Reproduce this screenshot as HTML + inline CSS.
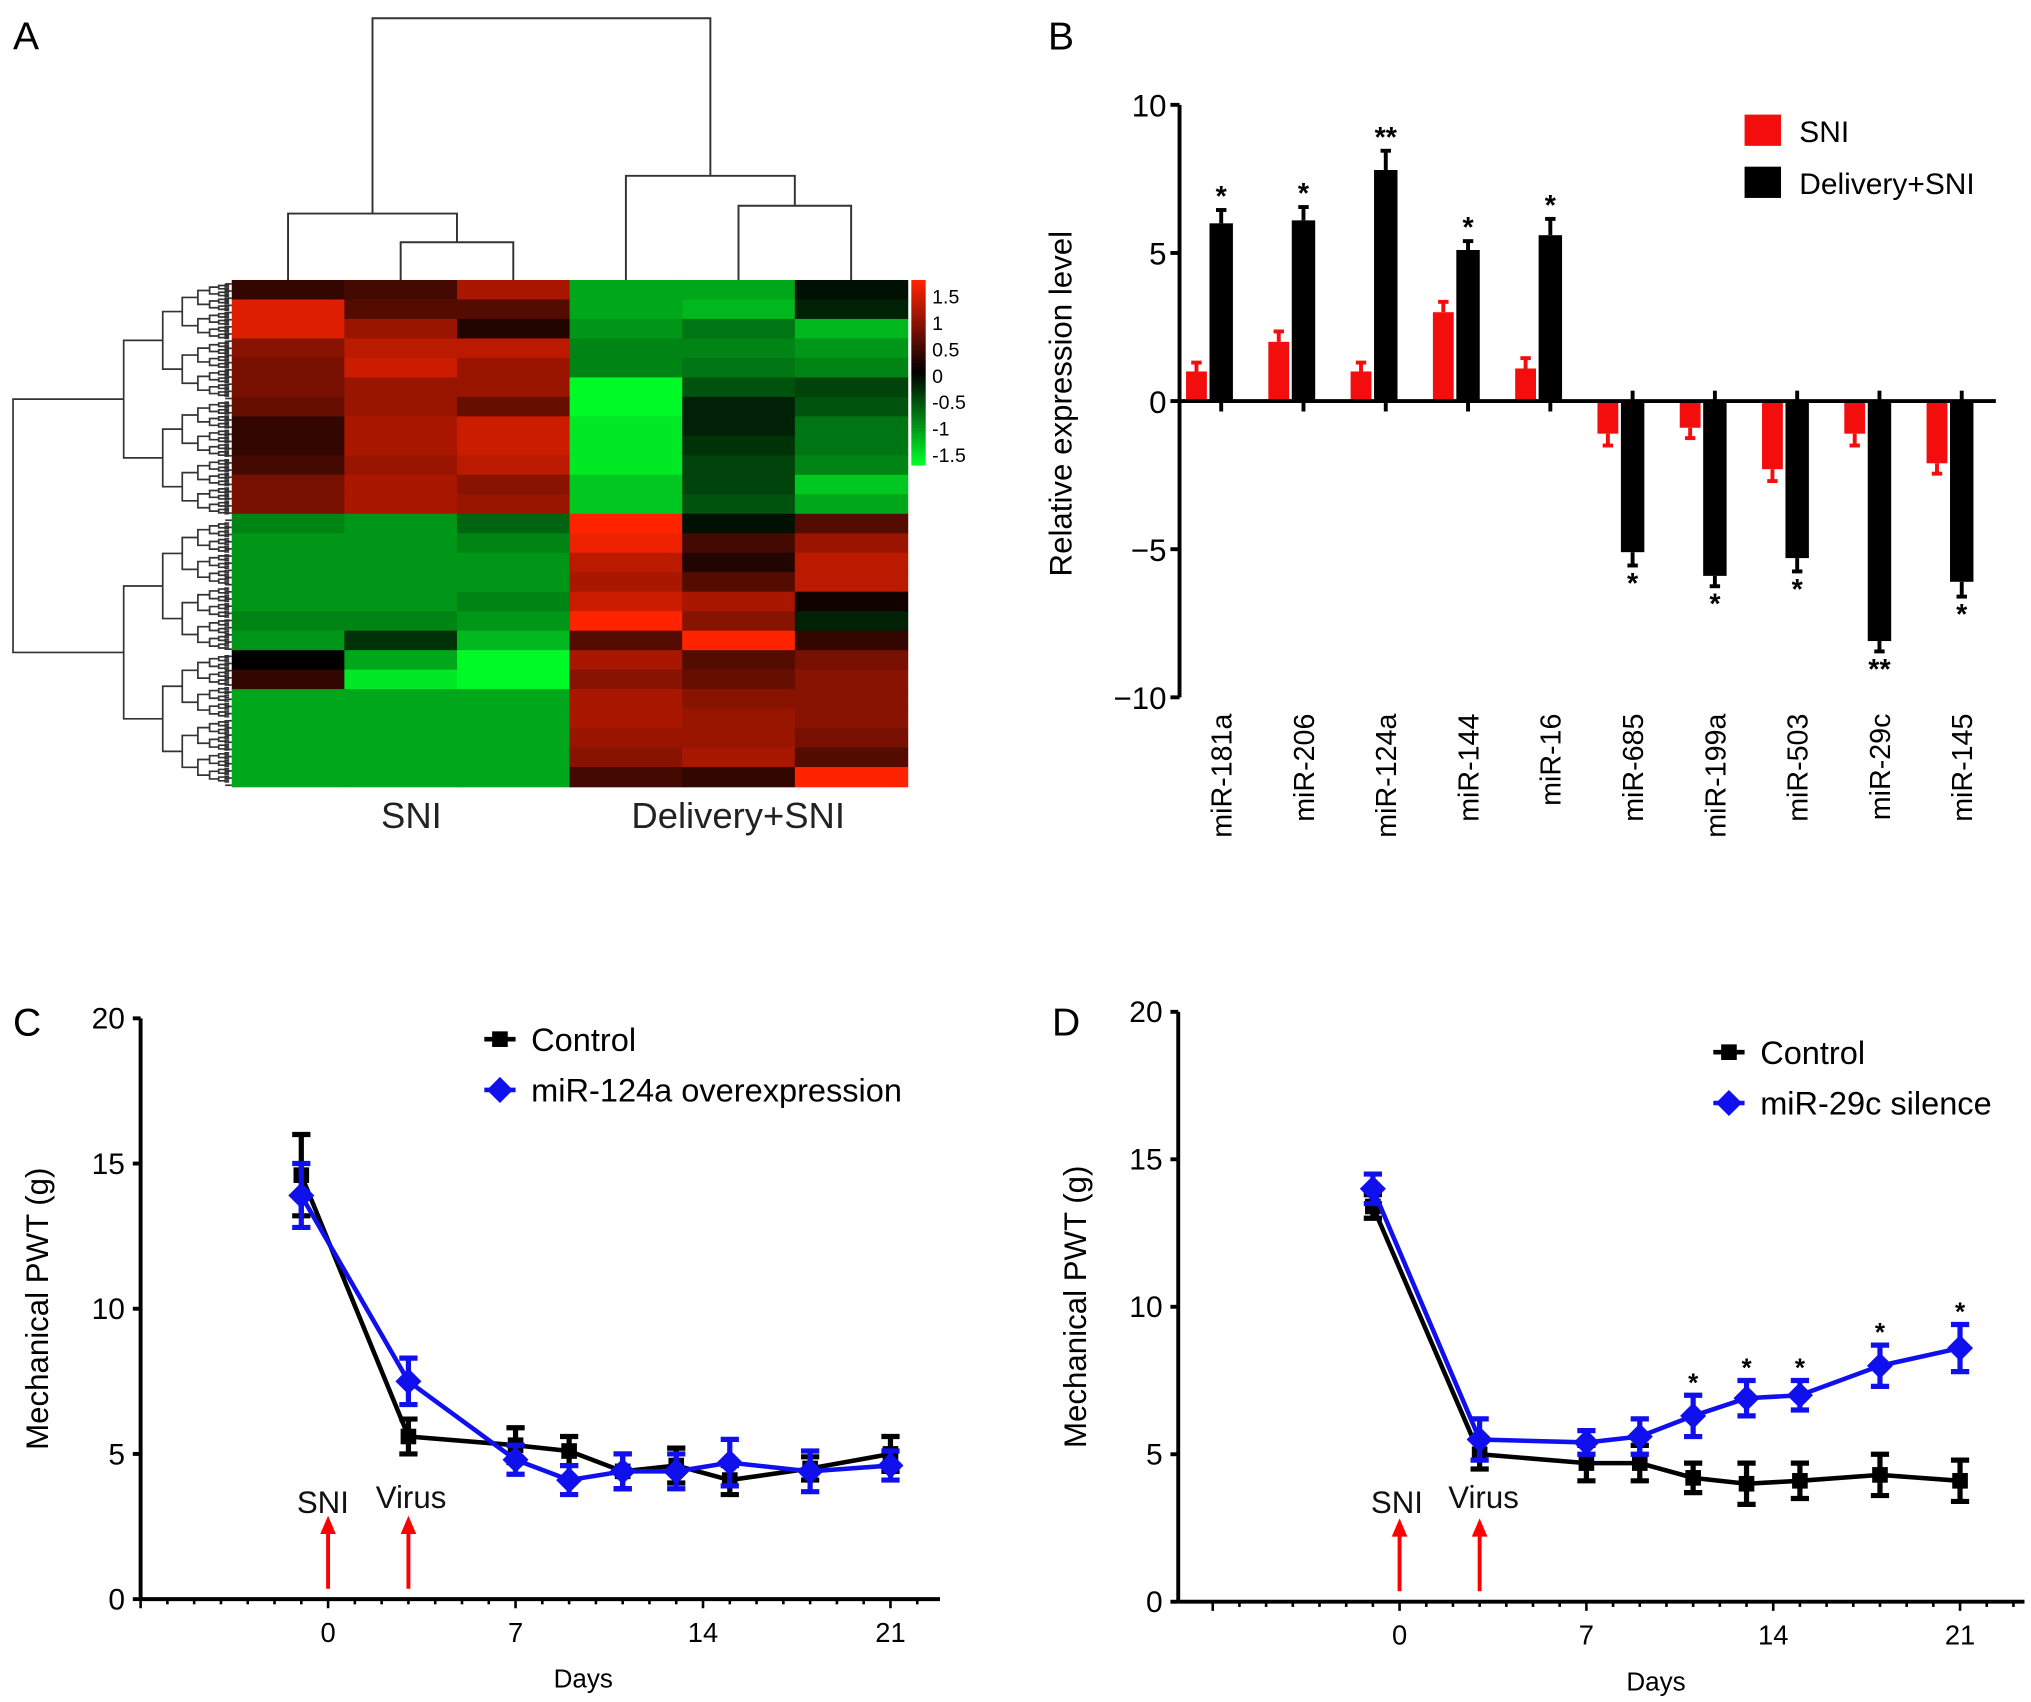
<!DOCTYPE html>
<html><head><meta charset="utf-8"><style>
html,body{margin:0;padding:0;background:#fff;}
svg{display:block;font-family:"Liberation Sans",Arial,sans-serif;}
</style></head><body>
<svg id="fig" width="2031" height="1702" viewBox="0 0 1560 1307" preserveAspectRatio="none" xmlns="http://www.w3.org/2000/svg">
<rect width="1560" height="1307" fill="#fff"/>
<g id="pA"></g>
<g id="pB"></g>
<g id="pC"></g>
<g id="pD"></g>
</svg>
<script>
// ---------- Panel A data ----------
const heatColumns = ["SNI-1","SNI-2","SNI-3","Del-1","Del-2","Del-3"];
const heatRows = [
[0.3,0.4,1.0,-1.0,-1.0,-0.1],
[1.3,0.5,0.5,-1.0,-1.1,-0.2],
[1.3,0.9,0.2,-0.9,-0.7,-1.1],
[0.8,1.1,1.1,-0.8,-0.8,-0.9],
[0.7,1.2,0.9,-0.8,-0.7,-0.8],
[0.7,0.9,0.9,-1.5,-0.5,-0.4],
[0.6,0.9,0.6,-1.6,-0.2,-0.5],
[0.3,1.0,1.2,-1.4,-0.2,-0.7],
[0.3,1.0,1.2,-1.4,-0.3,-0.7],
[0.4,0.9,1.1,-1.4,-0.4,-0.8],
[0.7,1.0,0.8,-1.2,-0.4,-1.2],
[0.7,1.0,0.9,-1.2,-0.5,-1.0],
[-0.8,-0.9,-0.6,1.5,-0.1,0.5],
[-0.9,-0.9,-0.8,1.4,0.4,0.9],
[-0.9,-0.9,-0.9,1.1,0.2,1.1],
[-0.9,-0.9,-0.9,1.0,0.5,1.1],
[-0.9,-0.9,-0.8,1.2,1.0,0.1],
[-0.8,-0.8,-0.9,1.5,0.8,-0.2],
[-0.9,-0.3,-1.1,0.5,1.5,0.3],
[0.0,-1.0,-1.5,1.0,0.5,0.7],
[0.3,-1.4,-1.5,0.8,0.6,0.8],
[-1.0,-1.0,-1.0,1.0,0.8,0.8],
[-1.0,-1.0,-1.0,1.0,0.9,0.8],
[-1.0,-1.0,-1.0,0.9,0.9,0.7],
[-1.0,-1.0,-1.0,0.8,1.0,0.5],
[-1.0,-1.0,-1.0,0.4,0.3,1.5]];
const colorbarTicks = [1.5,1,0.5,0,-0.5,-1,-1.5];

// ---------- Panel B data ----------
const mirNames = ["miR-181a","miR-206","miR-124a","miR-144","miR-16","miR-685","miR-199a","miR-503","miR-29c","miR-145"];
const sniValues = [1.0,2.0,1.0,3.0,1.1,-1.1,-0.9,-2.3,-1.1,-2.1];
const sniErrors = [0.3,0.35,0.3,0.35,0.35,0.4,0.35,0.4,0.4,0.35];
const deliveryValues = [6.0,6.1,7.8,5.1,5.6,-5.1,-5.9,-5.3,-8.1,-6.1];
const deliveryErrors = [0.45,0.45,0.65,0.3,0.55,0.45,0.35,0.45,0.35,0.5];
const deliveryStars = ["*","*","**","*","*","*","*","*","**","*"];
const barTicks = [10,5,0,-5,-10];

// ---------- Panel C data ----------
const days = [-1,3,7,9,11,13,15,18,21];
const cControl = [14.6,5.6,5.3,5.1,4.4,4.6,4.1,4.5,5.0];
const cControlErr = [1.4,0.6,0.6,0.5,0.6,0.6,0.5,0.4,0.6];
const cTreat = [13.9,7.5,4.8,4.1,4.4,4.4,4.7,4.4,4.6];
const cTreatErr = [1.1,0.8,0.5,0.5,0.6,0.6,0.8,0.7,0.5];
// ---------- Panel D data ----------
const dControl = [13.4,5.0,4.7,4.7,4.2,4.0,4.1,4.3,4.1];
const dControlErr = [0.4,0.5,0.6,0.6,0.5,0.7,0.6,0.7,0.7];
const dTreat = [14.0,5.5,5.4,5.6,6.3,6.9,7.0,8.0,8.6];
const dTreatErr = [0.5,0.7,0.4,0.6,0.7,0.6,0.5,0.7,0.8];
const dStars = ["","","","","*","*","*","*","*"];
const lineYTicks = [0,5,10,15,20];
const lineXTicks = [0,7,14,21];

const NS="http://www.w3.org/2000/svg";
function el(parent,tag,attrs,text){const e=document.createElementNS(NS,tag);for(const k in attrs)e.setAttribute(k,attrs[k]);if(text!==undefined)e.textContent=text;parent.appendChild(e);return e;}

// ===== Panel A =====
(function(){
const g=document.getElementById('pA');
const lab=el(g,'text',{x:10,y:38,'font-size':30},'A');


const X0=178,X1=697,Y0=215,Y1=604;
const cw=(X1-X0)/heatColumns.length, rh=(Y1-Y0)/heatRows.length;
function col(v){const t=Math.max(-1,Math.min(1,v/1.5));
 if(t>=0)return `rgb(${Math.round(255*t)},${Math.round(35*t)},0)`;
 const s=-t;return `rgb(0,${Math.round(250*s)},${Math.round(40*s)})`;}
heatRows.forEach((row,ri)=>{row.forEach((v,ci)=>{
 const r=el(g,'rect',{x:X0+ci*cw,y:Y0+ri*rh,width:cw+0.6,height:rh+0.6,fill:col(v)});
 
 
});});
const cb=el(g,'g',{});


for(let i=0;i<60;i++){const v=1.5-3*i/59;el(cb,'rect',{x:700,y:215+i*142/60,width:11,height:142/60+0.5,fill:col(v)});}
colorbarTicks.forEach(v=>{const t=el(cb,'text',{x:716,y:289-v*40.5+5,'font-size':15},String(v));
 
 });
const cx=i=>X0+cw*(i+0.5);
const dend=el(g,'g',{stroke:'#333','stroke-width':1.5,fill:'none'});


function U(x1,x2,y,yb1,yb2){el(dend,'path',{d:`M${x1},${yb1}V${y}H${x2}V${yb2}`});}
U(cx(1),cx(2),186,215,215);
U(cx(0),(cx(1)+cx(2))/2,164,215,186);
U(cx(4),cx(5),158,215,215);
U(cx(3),(cx(4)+cx(5))/2,135,215,158);
U((cx(0)+(cx(1)+cx(2))/2)/2,(cx(3)+(cx(4)+cx(5))/2)/2,14,164,135);
const ld=el(g,'g',{stroke:'#333','stroke-width':1.3,fill:'none'});


const levels=[10,95,125,140,152,161,168,173,176];
function tree(lo,hi,d){
 if(hi-lo<=0.0001||d>=levels.length-1){return (lo+hi)/2;}
 const mid=(lo+hi)/2;const x=levels[d];
 const a=tree(lo,lo+(mid-lo)*0.98,d+1), b=tree(mid+(hi-mid)*0.02,hi,d+1);
 const xa=levels[Math.min(d+1,levels.length-1)];
 el(ld,'path',{d:`M${xa},${a}H${x}V${b}H${xa}`});
 return (a+b)/2;}
const top=tree(Y0+3,398-3,1), bot=tree(398+3,Y1-3,1);
el(ld,'path',{d:`M95,${top}H10V${bot}H95`});
for(let y=Y0+3;y<Y1;y+=5.5){el(ld,'line',{x1:173,y1:y,x2:178,y2:y});}
const l1=el(g,'text',{x:316,y:636,'font-size':28,'text-anchor':'middle',fill:'#222'},'SNI');


const l2=el(g,'text',{x:567,y:636,'font-size':28,'text-anchor':'middle',fill:'#222'},'Delivery+SNI');


})();

// ===== Panel B =====
(function(){
const g=document.getElementById('pB');
const lab=el(g,'text',{x:805,y:38,'font-size':30},'B');


const AX=906, yOf=v=>308-v*22.75;
const xg=i=>938+i*63.2;
el(g,'line',{x1:AX,y1:yOf(10),x2:AX,y2:yOf(-10),stroke:'#000','stroke-width':3});
barTicks.forEach(v=>{
 el(g,'line',{x1:AX-7,y1:yOf(v),x2:AX,y2:yOf(v),stroke:'#000','stroke-width':3});
 const t=el(g,'text',{x:AX-10,y:yOf(v)+9,'font-size':24,'text-anchor':'end'},v<0?'\u2212'+(-v):String(v));
 
 });
const yt=el(g,'text',{x:0,y:0,'font-size':24,'text-anchor':'middle',transform:`translate(823,310) rotate(-90)`},'Relative expression level');


function errbar(x,v,e,color,w){const y=yOf(v),ye=yOf(v+(v>=0?e:-e));
 el(g,'line',{x1:x,y1:y,x2:x,y2:ye,stroke:color,'stroke-width':3});
 el(g,'line',{x1:x-w,y1:ye,x2:x+w,y2:ye,stroke:color,'stroke-width':3});}
mirNames.forEach((n,i)=>{
 const x=xg(i);
 const rv=sniValues[i],bv=deliveryValues[i];
 const r=el(g,'rect',{x:x-27,y:Math.min(yOf(0),yOf(rv)),width:16,height:Math.abs(yOf(rv)-yOf(0)),fill:'#f40d0d'});
 
 
 errbar(x-19,rv,sniErrors[i],'#f40d0d',4);
 const b=el(g,'rect',{x:x-9,y:Math.min(yOf(0),yOf(bv)),width:18,height:Math.abs(yOf(bv)-yOf(0)),fill:'#000'});
 
 
 errbar(x,bv,deliveryErrors[i],'#000',4);
 el(g,'line',{x1:x,y1:yOf(0),x2:x,y2:yOf(0)+(bv>=0?8:-8),stroke:'#000','stroke-width':3});
 const e=deliveryErrors[i], sy=bv>=0?yOf(bv+e)-3:yOf(bv-e)+21;
 const s=el(g,'text',{x:x,y:sy,'font-size':22,'font-weight':'bold','text-anchor':'middle'},deliveryStars[i]);
 
 
 const t=el(g,'text',{x:0,y:0,'font-size':22,'text-anchor':'end',transform:`translate(${x+8},548) rotate(-90)`},n);
 
 
});
el(g,'line',{x1:AX,y1:yOf(0),x2:1533,y2:yOf(0),stroke:'#000','stroke-width':3});
const lg=el(g,'g',{});


el(lg,'rect',{x:1340,y:88,width:28,height:24,fill:'#f40d0d'});
el(lg,'text',{x:1382,y:109,'font-size':23},'SNI');
el(lg,'rect',{x:1340,y:128,width:28,height:24,fill:'#000'});
el(lg,'text',{x:1382,y:149,'font-size':23},'Delivery+SNI');
})();

// ===== Line panels =====
function linePanel(gid,letter,lx,ly,AX,yTop,yBot,x0px,dayPx,xEnd,ctrl,ctrlE,trt,trtE,stars,legendY,legendX,treatName,arrows,daysX){
 const g=document.getElementById(gid);
 const lab=el(g,'text',{x:lx,y:ly,'font-size':30},letter);
 
 
 const yOf=v=>yBot-(yBot-yTop)*v/20, xOf=d=>x0px+d*dayPx;
 el(g,'line',{x1:AX,y1:yTop,x2:AX,y2:yBot,stroke:'#000','stroke-width':3});
 el(g,'line',{x1:AX,y1:yBot,x2:xEnd,y2:yBot,stroke:'#000','stroke-width':3});
 lineYTicks.forEach(v=>{el(g,'line',{x1:AX-6,y1:yOf(v),x2:AX,y2:yOf(v),stroke:'#000','stroke-width':3});
  const t=el(g,'text',{x:AX-12,y:yOf(v)+8,'font-size':23,'text-anchor':'end'},String(v));
  
  });
 for(let d=-7;xOf(d)<xEnd;d++){if(xOf(d)<=AX)continue;
  el(g,'line',{x1:xOf(d),y1:yBot,x2:xOf(d),y2:yBot+(d%7===0?7:4),stroke:'#000','stroke-width':2});}
 lineXTicks.forEach(d=>{const t=el(g,'text',{x:xOf(d),y:yBot+33,'font-size':21,'text-anchor':'middle'},String(d));
  
  });
 const xt=el(g,'text',{x:daysX,y:yBot+68,'font-size':20,'text-anchor':'middle'},'Days');
 
 
 const yt=el(g,'text',{x:0,y:0,'font-size':24,'text-anchor':'middle',transform:`translate(${AX-71},${(yTop+yBot)/2}) rotate(-90)`},'Mechanical PWT (g)');
 
 
 arrows.forEach(a=>{
  el(g,'line',{x1:xOf(a.d),y1:yBot-8,x2:xOf(a.d),y2:yBot-52,stroke:'#f00','stroke-width':3});
  el(g,'path',{d:`M${xOf(a.d)-6},${yBot-50}L${xOf(a.d)},${yBot-64}L${xOf(a.d)+6},${yBot-50}Z`,fill:'#f00'});
  const t=el(g,'text',{x:xOf(a.d)+a.dx,y:yBot-a.ty,'font-size':24,'text-anchor':'middle',fill:'#111'},a.label);
  
  });
 function series(vals,errs,color,name,marker){
  const s=el(g,'g',{});
  
  
  el(s,'polyline',{points:days.map((d,i)=>xOf(d)+','+yOf(vals[i])).join(' '),fill:'none',stroke:color,'stroke-width':3.5});
  days.forEach((d,i)=>{const x=xOf(d),y1=yOf(vals[i]+errs[i]),y2=yOf(vals[i]-errs[i]);
   el(s,'path',{d:`M${x},${y1}V${y2}M${x-7},${y1}H${x+7}M${x-7},${y2}H${x+7}`,stroke:color,'stroke-width':4,fill:'none'});
   const y=yOf(vals[i]);
   const m=marker==='d'?el(s,'path',{d:`M${x},${y-10}L${x+10},${y}L${x},${y+10}L${x-10},${y}Z`,fill:color}):el(s,'rect',{x:x-6,y:y-6,width:12,height:12,fill:color});
   
   });}
 series(ctrl,ctrlE,'#000','control-series','s');
 series(trt,trtE,'#1010ee','treatment-series','d');
 stars.forEach((s,i)=>{if(!s)return;const t=el(g,'text',{x:xOf(days[i]),y:yOf(trt[i]+trtE[i])-3,'font-size':20,'font-weight':'bold','text-anchor':'middle'},s);
  
  });
 const lg=el(g,'g',{});
 
 
 el(lg,'line',{x1:legendX-12,y1:legendY,x2:legendX+12,y2:legendY,stroke:'#000','stroke-width':3.5});
 el(lg,'rect',{x:legendX-6,y:legendY-6,width:12,height:12,fill:'#000'});
 el(lg,'text',{x:legendX+24,y:legendY+9,'font-size':25},'Control');
 const y2=legendY+39;
 el(lg,'line',{x1:legendX-12,y1:y2,x2:legendX+12,y2:y2,stroke:'#1010ee','stroke-width':3.5});
 el(lg,'path',{d:`M${legendX},${y2-10}L${legendX+10},${y2}L${legendX},${y2+10}L${legendX-10},${y2}Z`,fill:'#1010ee'});
 el(lg,'text',{x:legendX+24,y:y2+9,'font-size':25},treatName);
}
linePanel('pC','C',10,795,108,782,1228,252,20.57,722,cControl,cControlErr,cTreat,cTreatErr,["","","","","","","","",""],798,384,'miR-124a overexpression',
 [{d:0,dx:-4,ty:66,label:'SNI'},{d:3,dx:2,ty:70,label:'Virus'}],448);
linePanel('pD','D',808,795,905,777,1230,1075,20.5,1555,dControl,dControlErr,dTreat,dTreatErr,dStars,808,1328,'miR-29c silence',
 [{d:0,dx:-2,ty:68,label:'SNI'},{d:3,dx:3,ty:72,label:'Virus'}],1272);
</script>
</body></html>
